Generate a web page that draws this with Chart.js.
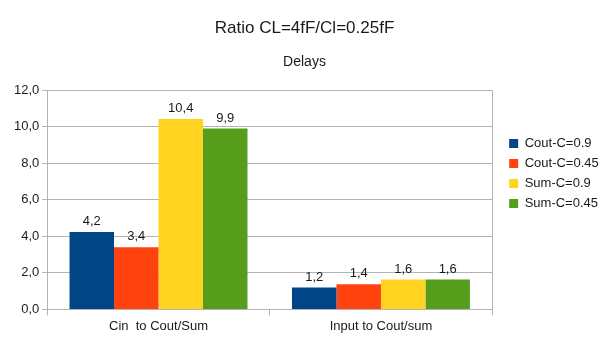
<!DOCTYPE html>
<html lang="en">
<head>
    <meta charset="UTF-8">
    <title>Ratio CL=4fF/Cl=0.25fF</title>
    <script src="https://cdn.jsdelivr.net/npm/chart.js"></script>
    <style>
        body {
            margin: 0;
            background: #fff;
        }
        #chartContainer {
            width: 605px;
            height: 340px;
        }
    </style>
</head>
<body>
    <div id="chartContainer">
        <canvas id="myChart"></canvas>
    </div>
    <script>
        const categories = ['Cin  to Cout/Sum', 'Input to Cout/sum'];
        const seriesNames = ['Cout-C=0.9', 'Cout-C=0.45', 'Sum-C=0.9', 'Sum-C=0.45'];
        const coutC09 = [4.24, 1.2];
        const coutC045 = [3.4, 1.38];
        const sumC09 = [10.42, 1.64];
        const sumC045 = [9.9, 1.64];
        const seriesColors = ['#004586', '#ff420e', '#ffd320', '#579d1c'];

        const fontFamily = '"Liberation Sans", Arial, sans-serif';
        const textColor = '#1a1a1a';
        const gridColor = '#b3b3b3';

        const fmt = v => v.toFixed(1).replace('.', ',');

        // etiketleri çubukların üstüne yaz
        const valueLabels = {
            id: 'valueLabels',
            afterDatasetsDraw(chart) {
                const c = chart.ctx;
                c.save();
                c.font = '13px ' + fontFamily;
                c.fillStyle = textColor;
                c.textAlign = 'center';
                c.textBaseline = 'bottom';
                chart.data.datasets.forEach((ds, i) => {
                    chart.getDatasetMeta(i).data.forEach((bar, j) => {
                        c.fillText(fmt(ds.data[j]), bar.x, bar.y - 4);
                    });
                });
                c.restore();
            }
        };

        const allSeries = [coutC09, coutC045, sumC09, sumC045];

        const ctx = document.getElementById('myChart').getContext('2d');
        new Chart(ctx, {
            type: 'bar',
            data: {
                labels: categories,
                datasets: allSeries.map((d, i) => ({
                    label: seriesNames[i],
                    data: d,
                    backgroundColor: seriesColors[i],
                    borderWidth: 0,
                    barPercentage: 1,
                    categoryPercentage: 0.8
                }))
            },
            options: {
                responsive: true,
                maintainAspectRatio: false,
                animation: false,
                layout: {
                    padding: { left: 8, right: 4, top: 10, bottom: 3 }
                },
                scales: {
                    x: {
                        grid: {
                            offset: true,
                            color: c => c.index === 1 ? 'rgba(0,0,0,0)' : gridColor,
                            tickColor: gridColor,
                            tickLength: 6
                        },
                        border: { display: false },
                        ticks: {
                            color: textColor,
                            font: { family: fontFamily, size: 13 }
                        }
                    },
                    y: {
                        min: 0,
                        max: 12,
                        afterFit: s => { s.width += 3; },
                        grid: {
                            color: gridColor,
                            tickColor: gridColor,
                            tickLength: 5
                        },
                        border: { color: gridColor },
                        ticks: {
                            stepSize: 2,
                            color: textColor,
                            font: { family: fontFamily, size: 13 },
                            callback: v => fmt(v)
                        }
                    },
                    // boş eksen: grafik ile lejant arası boşluk
                    gap: {
                        type: 'linear',
                        position: 'right',
                        grid: { display: false },
                        border: { display: false },
                        ticks: { display: false },
                        afterFit: s => { s.width = 10; }
                    }
                },
                plugins: {
                    title: {
                        display: true,
                        text: 'Ratio CL=4fF/Cl=0.25fF',
                        color: textColor,
                        font: { family: fontFamily, size: 17, weight: 'normal' },
                        padding: { top: 8, bottom: 14 }
                    },
                    subtitle: {
                        display: true,
                        text: 'Delays',
                        color: textColor,
                        font: { family: fontFamily, size: 14, weight: 'normal' },
                        padding: { top: 1, bottom: 20 }
                    },
                    legend: {
                        position: 'right',
                        align: 'center',
                        labels: {
                            color: textColor,
                            font: { family: fontFamily, size: 13 },
                            boxWidth: 9,
                            boxHeight: 9,
                            padding: 7
                        }
                    },
                    tooltip: { enabled: false }
                }
            },
            plugins: [valueLabels]
        });
    </script>
</body>
</html>
